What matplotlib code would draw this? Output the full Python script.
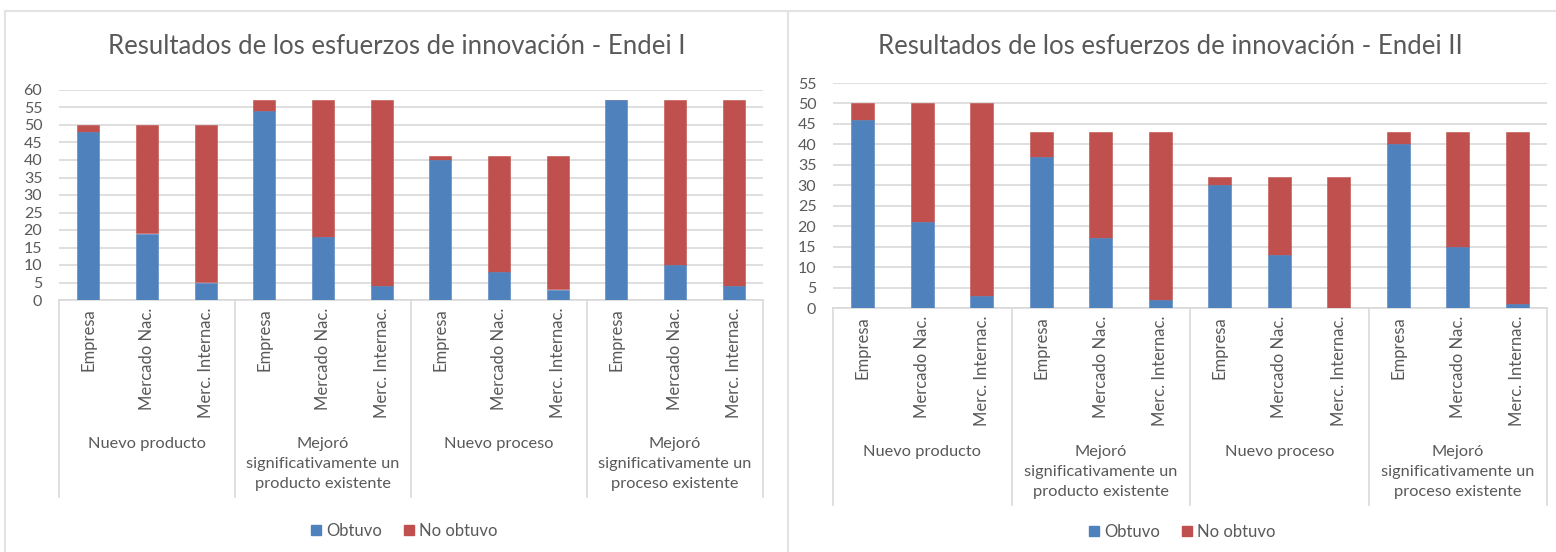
import matplotlib
matplotlib.use("Agg")
import matplotlib.pyplot as plt
from matplotlib.patches import Rectangle
from matplotlib.lines import Line2D
import numpy as np

plt.rcParams['font.family'] = ['Lato', 'DejaVu Sans']

subcats = ["Empresa", "Mercado Nac.", "Merc. Internac."]
groups = ["Nuevo producto",
          "Mejoró\nsignificativamente un\nproducto existente",
          "Nuevo proceso",
          "Mejoró\nsignificativamente un\nproceso existente"]
series_names = ["Obtuvo", "No obtuvo"]

# Endei I
totals_1 = [50, 50, 50, 57, 57, 57, 41, 41, 41, 57, 57, 57]
obtuvo_1 = [48, 19, 5, 54, 18, 4, 40, 8, 3, 57, 10, 4]
# Endei II
totals_2 = [50, 50, 50, 43, 43, 43, 32, 32, 32, 43, 43, 43]
obtuvo_2 = [46, 21, 3, 37, 17, 2, 30, 13, 0, 40, 15, 1]

titles = ["Resultados de los esfuerzos de innovación - Endei I",
          "Resultados de los esfuerzos de innovación - Endei II"]
yticks_1 = list(range(0, 61, 5))
yticks_2 = list(range(0, 56, 5))

BLUE = "#4F81BD"
RED = "#C0504D"
GRID = "#D9D9D9"
TXT = "#595959"

W, H = 1556, 552
fig = plt.figure(figsize=(W / 100, H / 100), dpi=100)


def fx(px):
    return px / W


def fy(py):
    return 1 - py / H


# panel frame lines
fig.add_artist(Line2D([fx(5), fx(1556)], [fy(11), fy(11)], color="#E3E3E3", lw=1.5))
fig.add_artist(Line2D([fx(5), fx(5)], [fy(11), fy(552)], color="#E3E3E3", lw=1.5))
fig.add_artist(Line2D([fx(788), fx(788)], [fy(11), fy(552)], color="#E3E3E3", lw=1.5))


def panel(x0, x1, ytop, ybot, sep_bottom, totals, obtuvo, yticks, ymax, title,
          title_x, legend_x, legend_y, barw):
    ax = fig.add_axes([fx(x0), fy(ybot), fx(x1 - x0), (ybot - ytop) / H])
    n = len(totals)
    x = np.arange(n)
    no = [t - o for t, o in zip(totals, obtuvo)]
    ax.bar(x, obtuvo, width=barw, color=BLUE, edgecolor=BLUE, lw=0.4,
           label=series_names[0], zorder=3)
    ax.bar(x, no, width=barw, bottom=obtuvo, color=RED, edgecolor=RED, lw=0.4,
           label=series_names[1], zorder=2.9)
    ax.set_xlim(-0.5, n - 0.5)
    ax.set_ylim(0, ymax)
    ax.set_yticks(yticks)
    ax.yaxis.grid(True, color=GRID, lw=1.2, zorder=0)
    ax.tick_params(axis='y', length=0, labelsize=11.5, labelcolor=TXT, pad=12)
    ax.tick_params(axis='x', length=0, labelbottom=False)
    for s in ["top", "right", "left"]:
        ax.spines[s].set_visible(False)
    ax.spines["bottom"].set_color(GRID)
    ax.spines["bottom"].set_linewidth(1.2)
    ah = ybot - ytop
    tr = ax.get_xaxis_transform()
    # separators
    for g in range(len(groups) + 1):
        xs = g * 3 - 0.5
        ax.plot([xs, xs], [0, -(sep_bottom - ybot) / ah], transform=tr,
                color=GRID, lw=1.2, clip_on=False)
    # sub labels
    for i in range(n):
        ax.text(i, -8 / ah, subcats[i % 3], transform=tr, rotation=90,
                ha='center', va='top', fontsize=12, color=TXT)
    # group labels
    for g, name in enumerate(groups):
        ax.text(g * 3 + 1, -(137) / ah, name, transform=tr, ha='center',
                va='top', fontsize=11.8, color=TXT, linespacing=1.55)
    fig.text(fx(title_x), fy(46), title, ha='center', va='center',
             fontsize=18.5, color=TXT)
    handles = [Rectangle((0, 0), 1, 1, color=BLUE), Rectangle((0, 0), 1, 1, color=RED)]
    fig.legend(handles, series_names, loc='center', bbox_to_anchor=(fx(legend_x), fy(legend_y)),
               ncol=2, frameon=False, fontsize=12, labelcolor=TXT,
               handlelength=0.6, handleheight=0.6, handletextpad=0.3, columnspacing=1.3)
    return ax


panel(59, 763, 90, 300, 497, totals_1, obtuvo_1, yticks_1, 60, titles[0], 397, 404, 531, 0.37)
panel(833, 1547, 83, 308, 505, totals_2, obtuvo_2, yticks_2, 55, titles[1], 1170, 1182, 532, 0.39)

fig.savefig("out.png", dpi=100)
